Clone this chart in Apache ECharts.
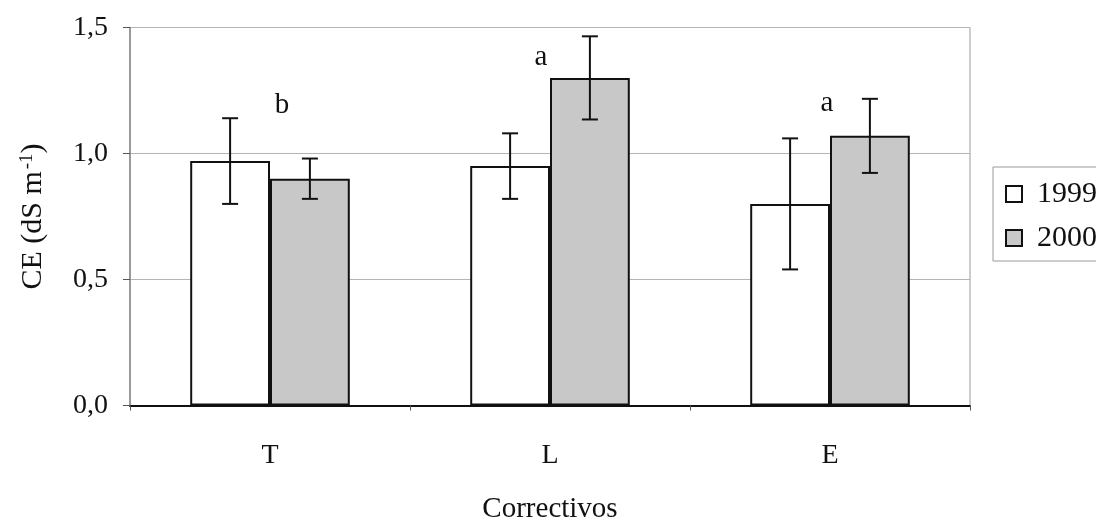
<!DOCTYPE html>
<html>
<head>
<meta charset="utf-8">
<script src="https://cdn.jsdelivr.net/npm/echarts@6/dist/echarts.min.js"></script>
<style>
html,body{margin:0;padding:0;background:#fff;}
#chart{width:1096px;height:522px;}
</style>
</head>
<body>
<div id="chart"></div>
<script>
// ---- data ----
var categories = ['T', 'L', 'E'];
var seriesNames = ['1999', '2000'];
var mean1999 = [0.97, 0.95, 0.80];
var err1999  = [0.17, 0.13, 0.26];
var mean2000 = [0.90, 1.30, 1.07];
var err2000  = [0.08, 0.165, 0.147];
var letters      = ['b', 'a', 'a'];
var letterHeight = [1.19, 1.38, 1.20];
var yTicks = [0, 0.5, 1.0, 1.5];

// ---- style ----
var FONT = 'Liberation Serif';
var GAP = 0.43;
var letterDx = [12, -9, -3];

var chart = echarts.init(document.getElementById('chart'), null, {renderer: 'canvas'});

function errSeries(name, means, errs, sign) {
  return {
    name: name,
    type: 'custom',
    z: 5,
    data: categories.map(function (c, i) { return [i, means[i], errs[i]]; }),
    renderItem: function (params, api) {
      var i = api.value(0), m = api.value(1), e = api.value(2);
      var band = api.size([1, 0])[0];
      var off = sign * band * (1 - GAP) / 4;
      var top = api.coord([i, m + e]);
      var bot = api.coord([i, m - e]);
      var x = top[0] + off;
      var cap = 8;
      var st = {stroke: '#111', lineWidth: 2};
      return {
        type: 'group',
        children: [
          {type: 'line', shape: {x1: x, y1: top[1], x2: x, y2: bot[1]}, style: st},
          {type: 'line', shape: {x1: x - cap, y1: top[1], x2: x + cap, y2: top[1]}, style: st},
          {type: 'line', shape: {x1: x - cap, y1: bot[1], x2: x + cap, y2: bot[1]}, style: st}
        ]
      };
    }
  };
}

var option = {
  animation: false,
  backgroundColor: '#fff',
  textStyle: {fontFamily: FONT},
  grid: {left: 130, right: 126, top: 27.5, bottom: 116.5, show: true, borderColor: '#9a9a9a', borderWidth: 1,
         containLabel: false, outerBoundsMode: 'none'},
  legend: {
    data: seriesNames,
    orient: 'vertical',
    left: 993, top: 167,
    icon: 'rect',
    itemWidth: 16, itemHeight: 16,
    itemGap: 14,
    padding: [12, 20, 8, 12],
    borderColor: '#9a9a9a', borderWidth: 1,
    backgroundColor: '#fff',
    textStyle: {fontFamily: FONT, fontSize: 30, lineHeight: 30, color: '#111', padding: [0, 0, 0, 10]}
  },
  xAxis: {
    type: 'category',
    data: categories,
    name: 'Correctivos',
    nameLocation: 'middle',
    nameGap: 89,
    nameTextStyle: {fontFamily: FONT, fontSize: 29, color: '#111'},
    axisLine: {lineStyle: {color: '#111', width: 2}},
    axisTick: {show: true, length: 5, lineStyle: {color: '#555'}},
    axisLabel: {fontFamily: FONT, fontSize: 28, color: '#111', margin: 36}
  },
  yAxis: {
    type: 'value',
    min: 0, max: 1.5, interval: 0.5,
    name: 'CE (dS m{sup|-1})',
    nameLocation: 'middle',
    nameGap: 82,
    nameTextStyle: {
      fontFamily: FONT, fontSize: 30, color: '#111',
      rich: {sup: {fontFamily: FONT, fontSize: 19, color: '#111', verticalAlign: 'top', lineHeight: 30, padding: [0, 0, 14, 2]}}
    },
    axisLine: {show: true, lineStyle: {color: '#888', width: 1.5}},
    axisTick: {show: true, length: 7, lineStyle: {color: '#555'}},
    axisLabel: {
      fontFamily: FONT, fontSize: 28, color: '#111', margin: 22,
      formatter: function (v) { return v.toFixed(1).replace('.', ','); }
    },
    splitLine: {show: true, lineStyle: {color: '#b4b4b4', width: 1}}
  },
  series: [
    {
      name: seriesNames[0], type: 'bar', data: mean1999,
      barGap: '0%', barCategoryGap: (GAP * 100) + '%',
      itemStyle: {color: '#ffffff', borderColor: '#111', borderWidth: 2}
    },
    {
      name: seriesNames[1], type: 'bar', data: mean2000,
      barGap: '0%', barCategoryGap: (GAP * 100) + '%',
      itemStyle: {color: '#c8c8c8', borderColor: '#111', borderWidth: 2}
    },
    errSeries('err1999', mean1999, err1999, -1),
    errSeries('err2000', mean2000, err2000, 1),
    {
      name: 'letters', type: 'custom', z: 6,
      data: categories.map(function (c, i) { return [i, letterHeight[i]]; }),
      renderItem: function (params, api) {
        var i = api.value(0);
        var p = api.coord([i, api.value(1)]);
        return {
          type: 'text',
          style: {
            x: p[0] + letterDx[params.dataIndex], y: p[1],
            text: letters[params.dataIndex],
            fill: '#111', font: '29px "' + FONT + '"',
            align: 'center', verticalAlign: 'middle'
          }
        };
      }
    }
  ]
};
chart.setOption(option);
</script>
</body>
</html>
